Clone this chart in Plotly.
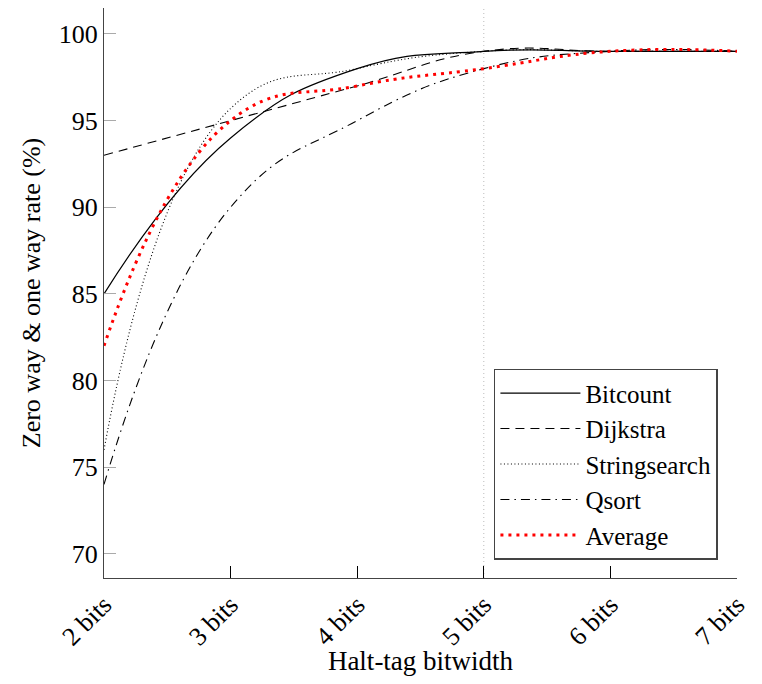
import plotly.graph_objects as go

bitwidths = [2, 3, 4, 5, 6, 7]
tick_labels = ["2 bits", "3 bits", "4 bits", "5 bits", "6 bits", "7 bits"]

bitcount = [85, 94, 98, 99, 99, 99]
dijkstra = [93, 95, 97, 99, 99, 99]
stringsearch = [76, 95.7, 98, 99, 99, 99]
qsort = [74, 90, 95, 98, 99, 99]
average = [82, 95, 97, 98, 99, 99]

highlight_bitwidth = 5

FONT = "Liberation Serif"

series = [
    ("Bitcount", bitcount, dict(color="black", width=1.2, dash="solid")),
    ("Dijkstra", dijkstra, dict(color="black", width=1.1, dash="9px,6px")),
    ("Stringsearch", stringsearch, dict(color="black", width=1.1, dash="1px,2.5px")),
    ("Qsort", qsort, dict(color="black", width=1.1, dash="9px,5px,1.5px,5px")),
    ("Average", average, dict(color="#ff0000", width=3, dash="3px,5px")),
]

fig = go.Figure()
for name, vals, line in series:
    fig.add_trace(go.Scatter(
        x=bitwidths, y=vals, name=name, mode="lines",
        line=dict(shape="spline", smoothing=1.3, **line),
    ))

fig.add_shape(type="line", xref="x", yref="paper",
              x0=highlight_bitwidth, x1=highlight_bitwidth, y0=0, y1=1,
              line=dict(color="#bbbbbb", width=1, dash="1px,3px"), layer="below")

fig.update_layout(
    width=746, height=668,
    margin=dict(l=96, r=17, t=0, b=98),
    paper_bgcolor="white", plot_bgcolor="white",
    font=dict(family=FONT, size=26, color="black"),
    showlegend=True,
    legend=dict(
        x=0.616, y=0.367, xanchor="left", yanchor="top",
        bgcolor="white", bordercolor="#444444", borderwidth=1.5,
        font=dict(family=FONT, size=25),
        itemwidth=80,
    ),
    xaxis=dict(
        range=[2, 7], automargin=False,
        tickmode="array", tickvals=bitwidths, ticktext=tick_labels,
        tickangle=-45, ticklabeloverflow="allow",
        ticks="inside", ticklen=12, tickcolor="black",
        showline=True, linecolor="#444444", linewidth=1.3,
        showgrid=False, zeroline=False,
        tickfont=dict(family=FONT, size=26),
        title=dict(text="Halt-tag bitwidth", font=dict(family=FONT, size=27), standoff=14),
    ),
    yaxis=dict(
        range=[68.6, 101.5], automargin=False,
        tickvals=[70, 75, 80, 85, 90, 95, 100],
        ticks="inside", ticklen=12, tickcolor="#aaaaaa",
        showline=True, linecolor="#444444", linewidth=1.3,
        showgrid=False, zeroline=False,
        tickfont=dict(family=FONT, size=26),
        title=dict(text="Zero way &amp; one way rate (%)", font=dict(family=FONT, size=26), standoff=10),
    ),
)

fig.write_html("out.html")
